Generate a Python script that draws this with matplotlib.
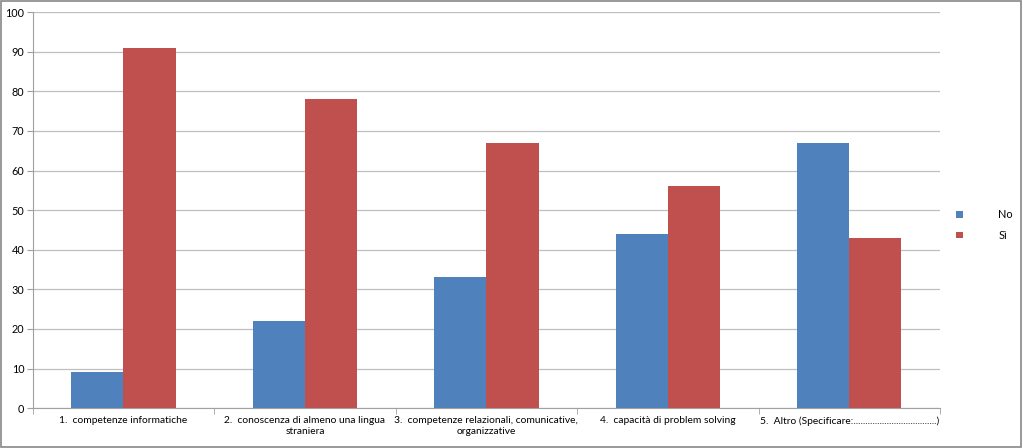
import numpy as np
import matplotlib
matplotlib.use("Agg")
import matplotlib.pyplot as plt
from matplotlib.patches import Rectangle

categories = [
    "1.  competenze informatiche",
    "2.  conoscenza di almeno una lingua\nstraniera",
    "3.  competenze relazionali, comunicative,\norganizzative",
    "4.  capacità di problem solving",
    "5.  Altro (Specificare:...................................)",
]
no_values = [9, 22, 33, 44, 67]
si_values = [91, 78, 67, 56, 43]

plt.rcParams['font.family'] = ['Lato', 'DejaVu Sans']

fig = plt.figure(figsize=(10.23, 4.48), dpi=100)
ax = fig.add_axes([0.032, 0.089, 0.887, 0.884])

x = np.arange(len(categories))
w = 0.287
ax.bar(x - w / 2, no_values, w, color='#4F81BD', label='No', zorder=3)
ax.bar(x + w / 2, si_values, w, color='#C0504D', label='Sì', zorder=3)

ax.set_xlim(-0.5, len(categories) - 0.5)
ax.set_ylim(0, 100)
ax.set_yticks(range(0, 101, 10))
ax.yaxis.grid(True, color='#BFBFBF', linewidth=0.9, zorder=0)
ax.set_xticks(x)
ax.set_xticklabels(categories, fontsize=7.4, linespacing=1.25)
ax.set_xticks(np.arange(-0.5, len(categories), 1), minor=True)
ax.tick_params(axis='x', which='major', length=0, pad=6)
ax.tick_params(axis='x', which='minor', length=4, color='#A0A0A0', direction='out')
ax.tick_params(axis='y', length=4, color='#A0A0A0', labelsize=7.8, pad=2)

for side in ['top', 'right']:
    ax.spines[side].set_visible(False)
for side in ['left', 'bottom']:
    ax.spines[side].set_color('#A0A0A0')

leg = fig.legend(loc='upper left', bbox_to_anchor=(0.925, 0.555), frameon=False,
                 fontsize=7.8, handlelength=0.6, handleheight=0.6,
                 handletextpad=3.3, labelspacing=0.9)

fig.patches.append(Rectangle((0.001, 0.002), 0.997, 0.995, transform=fig.transFigure,
                             fill=False, edgecolor='#888888', linewidth=1.2))

fig.savefig('out.png', dpi=100)
